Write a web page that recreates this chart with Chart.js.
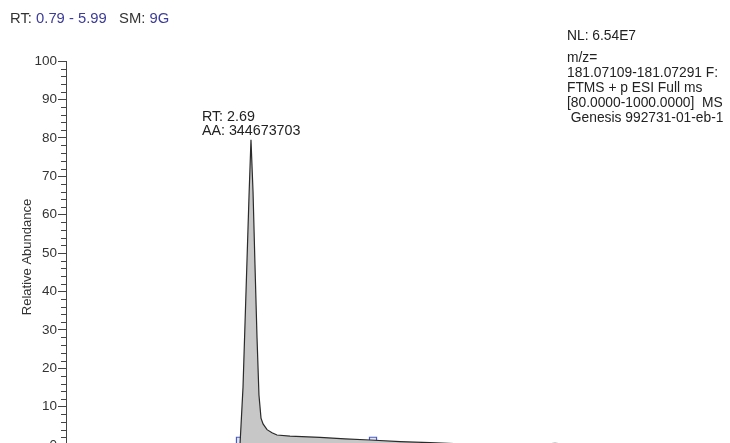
<!DOCTYPE html>
<html>
<head>
<meta charset="utf-8">
<script src="https://cdn.jsdelivr.net/npm/chart.js@4/dist/chart.umd.min.js"></script>
<style>
  html, body { margin: 0; padding: 0; background: #fff; overflow: hidden; }
  #wrap { width: 730px; height: 520px; }
</style>
</head>
<body>
<div id="wrap"><canvas id="chromatogram" width="730" height="520"></canvas></div>
<script>
// retention time (min) and relative abundance (%)
const rtMinutes = [0.79, 1.20, 1.60, 2.00, 2.40, 2.578, 2.609, 2.640, 2.671, 2.691, 2.712, 2.732, 2.753, 2.773, 2.794, 2.815, 2.856, 2.907, 2.958, 3.092, 3.400, 3.657, 3.914, 4.223, 4.531, 4.839, 5.250, 5.662, 5.816, 5.990]
const abundance = [0, 0, 0, 0, 0, 0, 15, 40, 65, 79.5, 66, 47, 28, 13, 7, 5.5, 4.0, 3.2, 2.6, 2.3, 2.0, 1.6, 1.3, 0.9, 0.6, 0.3, 0.1, 0.2, 0.4, 0.1]

// integration boundaries of the labelled peak (marker level as drawn)
const boundaryRT = [2.578, 3.945]
const boundaryLevel = [1.1, 1.1]

const peakRT = 2.69
const peakValue = 79.5
const peakLabels = ['RT: 2.69', 'AA: 344673703']

const yTickValues = [0, 10, 20, 30, 40, 50, 60, 70, 80, 90, 100]
const yMinorStep = 2

const headerRange = '0.79 - 5.99'
const headerSM = '9G'
const infoLines = ['NL: 6.54E7', 'm/z=', '181.07109-181.07291 F:', 'FTMS + p ESI Full ms', '[80.0000-1000.0000]  MS', ' Genesis 992731-01-eb-1']

const FONT = '"Liberation Sans", Arial, sans-serif'

const textPlugin = {
  id: 'xcaliburText',
  afterDraw (chart) {
    const ctx = chart.ctx
    const xs = chart.scales.x
    const ys = chart.scales.y
    ctx.save()
    ctx.textBaseline = 'alphabetic'
    ctx.textAlign = 'left'

    // minor ticks on the y axis
    ctx.strokeStyle = '#444'
    ctx.lineWidth = 1
    for (let v = 0; v <= 100; v += yMinorStep) {
      if (v % 10 === 0) continue
      const py = Math.round(ys.getPixelForValue(v)) + 0.5
      ctx.beginPath()
      ctx.moveTo(chart.chartArea.left - 5, py)
      ctx.lineTo(chart.chartArea.left, py)
      ctx.stroke()
    }

    // header
    ctx.font = '14.8px ' + FONT
    let hx = 10
    const hy = 23
    const parts = [['RT: ', '#333'], [headerRange, '#3c3c9c'], ['   SM: ', '#333'], [headerSM, '#3c3c9c']]
    parts.forEach(([t, c]) => {
      ctx.fillStyle = c
      ctx.fillText(t, hx, hy)
      hx += ctx.measureText(t).width
    })

    // info block on the right
    ctx.fillStyle = '#222'
    ctx.font = '13.8px ' + FONT
    const infoY = [40, 62, 77, 92, 107, 122]
    infoLines.forEach((t, i) => ctx.fillText(t, 567, infoY[i]))

    // peak annotation
    const px = xs.getPixelForValue(peakRT)
    const py = ys.getPixelForValue(peakValue)
    ctx.fillStyle = '#222'
    ctx.font = '14.3px ' + FONT
    ctx.fillText(peakLabels[0], px - 49, py - 19)
    ctx.fillText(peakLabels[1], px - 49, py - 5)

    // y axis title
    ctx.translate(31, 257)
    ctx.rotate(-Math.PI / 2)
    ctx.textAlign = 'center'
    ctx.fillStyle = '#333'
    ctx.font = '13px ' + FONT
    ctx.fillText('Relative Abundance', 0, 0)
    ctx.restore()
  }
}

new Chart(document.getElementById('chromatogram'), {
  type: 'scatter',
  data: {
    datasets: [
      {
        data: rtMinutes.map((t, i) => ({ x: t, y: abundance[i] })),
        showLine: true,
        fill: 'origin',
        backgroundColor: '#c7c7c7',
        borderColor: '#2b2b2b',
        borderWidth: 1.2,
        pointRadius: 0,
        tension: 0
      },
      {
        data: boundaryRT.map((t, i) => ({ x: t, y: boundaryLevel[i] })),
        showLine: false,
        pointStyle: 'rect',
        pointRadius: 5,
        borderWidth: 1.2,
        borderColor: '#4a5cc0',
        backgroundColor: 'rgba(205, 212, 242, 0.6)'
      }
    ]
  },
  options: {
    responsive: false,
    animation: false,
    events: [],
    layout: { padding: { top: 61, right: 158, left: 0, bottom: 0 } },
    plugins: { legend: { display: false }, tooltip: { enabled: false } },
    scales: {
      x: {
        type: 'linear',
        min: 0.79,
        max: 5.99,
        grid: { display: false },
        border: { display: false },
        ticks: { display: false },
        afterFit (scale) { scale.height = 75 }
      },
      y: {
        min: 0,
        max: 100,
        afterBuildTicks (scale) { scale.ticks = yTickValues.map(v => ({ value: v })) },
        grid: { drawOnChartArea: false, tickLength: 8, color: '#444' },
        border: { display: true, color: '#444', width: 1 },
        ticks: {
          padding: 1,
          color: '#333',
          font: { family: FONT, size: 13.5 }
        },
        afterFit (scale) { scale.width = 66 }
      }
    }
  },
  plugins: [textPlugin]
})
</script>
</body>
</html>
